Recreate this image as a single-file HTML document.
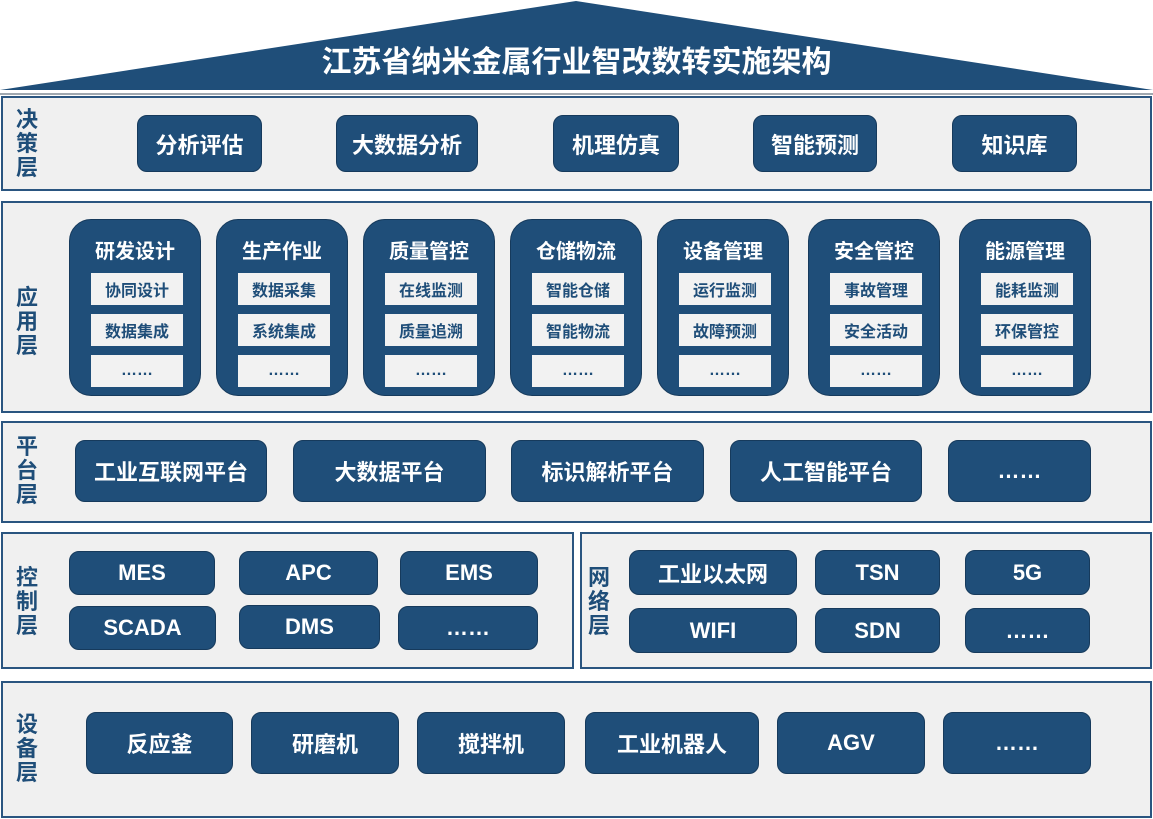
<!DOCTYPE html><html><head><meta charset="utf-8"><style>
body{margin:0;width:1153px;height:819px;background:#fff;position:relative;overflow:hidden;font-family:"Liberation Sans","Noto Sans CJK SC",sans-serif;font-weight:bold}
.p{position:absolute;background:#f0f0f0;border:2px solid #2a5580;box-sizing:border-box}
.l{position:absolute;color:#1f4e79;font-size:22px;line-height:24px;width:26px;text-align:center}
.b{position:absolute;background:#1f4e79;color:#fff;border-radius:10px;display:flex;align-items:center;justify-content:center;font-size:22px;box-sizing:border-box;border:1px solid #163a5c}
.c{position:absolute;background:#1f4e79;border-radius:22px;top:219px;height:177px;width:132px;box-sizing:border-box;border:1px solid #163a5c}
.c .t{position:absolute;top:15px;width:100%;text-align:center;color:#fff;font-size:20px}
.c .s{position:absolute;left:21px;width:92px;height:32px;background:#f2f2f2;color:#1f4e79;font-size:16px;display:flex;align-items:center;justify-content:center}
</style></head><body>
<svg style="position:absolute;left:0;top:0" width="1153" height="100"><polygon points="0,90 576,1 1153,90" fill="#1f4e79"/><line x1="0" y1="94" x2="1153" y2="94" stroke="#a0a8b0" stroke-width="2"/></svg>
<div style="position:absolute;left:0;width:1153px;top:43px;text-align:center;color:#fff;font-size:30px;line-height:40px">江苏省纳米金属行业智改数转实施架构</div>

<div class="p" style="left:1px;top:96px;width:1151px;height:95px"></div>
<div class="l" style="left:14px;top:108px">决<br>策<br>层</div>
<div class="b" style="left:137px;top:115px;width:125px;height:57px">分析评估</div>
<div class="b" style="left:336px;top:115px;width:142px;height:57px">大数据分析</div>
<div class="b" style="left:553px;top:115px;width:126px;height:57px">机理仿真</div>
<div class="b" style="left:753px;top:115px;width:124px;height:57px">智能预测</div>
<div class="b" style="left:952px;top:115px;width:125px;height:57px">知识库</div>

<div class="p" style="left:1px;top:201px;width:1151px;height:212px"></div>
<div class="l" style="left:14px;top:286px">应<br>用<br>层</div>
<div class="c" style="left:69px"><div class="t">研发设计</div><div class="s" style="top:53px">协同设计</div><div class="s" style="top:94px">数据集成</div><div class="s" style="top:135px">……</div></div>
<div class="c" style="left:216px"><div class="t">生产作业</div><div class="s" style="top:53px">数据采集</div><div class="s" style="top:94px">系统集成</div><div class="s" style="top:135px">……</div></div>
<div class="c" style="left:363px"><div class="t">质量管控</div><div class="s" style="top:53px">在线监测</div><div class="s" style="top:94px">质量追溯</div><div class="s" style="top:135px">……</div></div>
<div class="c" style="left:510px"><div class="t">仓储物流</div><div class="s" style="top:53px">智能仓储</div><div class="s" style="top:94px">智能物流</div><div class="s" style="top:135px">……</div></div>
<div class="c" style="left:657px"><div class="t">设备管理</div><div class="s" style="top:53px">运行监测</div><div class="s" style="top:94px">故障预测</div><div class="s" style="top:135px">……</div></div>
<div class="c" style="left:808px"><div class="t">安全管控</div><div class="s" style="top:53px">事故管理</div><div class="s" style="top:94px">安全活动</div><div class="s" style="top:135px">……</div></div>
<div class="c" style="left:959px"><div class="t">能源管理</div><div class="s" style="top:53px">能耗监测</div><div class="s" style="top:94px">环保管控</div><div class="s" style="top:135px">……</div></div>

<div class="p" style="left:1px;top:421px;width:1151px;height:102px"></div>
<div class="l" style="left:14px;top:435px">平<br>台<br>层</div>
<div class="b" style="left:75px;top:440px;width:192px;height:62px">工业互联网平台</div>
<div class="b" style="left:293px;top:440px;width:193px;height:62px">大数据平台</div>
<div class="b" style="left:511px;top:440px;width:193px;height:62px">标识解析平台</div>
<div class="b" style="left:730px;top:440px;width:192px;height:62px">人工智能平台</div>
<div class="b" style="left:948px;top:440px;width:143px;height:62px">……</div>

<div class="p" style="left:1px;top:532px;width:573px;height:137px"></div>
<div class="l" style="left:14px;top:566px">控<br>制<br>层</div>
<div class="b" style="left:69px;top:551px;width:146px;height:44px">MES</div>
<div class="b" style="left:239px;top:551px;width:139px;height:44px">APC</div>
<div class="b" style="left:400px;top:551px;width:138px;height:44px">EMS</div>
<div class="b" style="left:69px;top:606px;width:147px;height:44px">SCADA</div>
<div class="b" style="left:239px;top:605px;width:141px;height:44px">DMS</div>
<div class="b" style="left:398px;top:606px;width:140px;height:44px">……</div>

<div class="p" style="left:580px;top:532px;width:572px;height:137px"></div>
<div class="l" style="left:586px;top:566px">网<br>络<br>层</div>
<div class="b" style="left:629px;top:550px;width:168px;height:45px">工业以太网</div>
<div class="b" style="left:815px;top:550px;width:125px;height:45px">TSN</div>
<div class="b" style="left:965px;top:550px;width:125px;height:45px">5G</div>
<div class="b" style="left:629px;top:608px;width:168px;height:45px">WIFI</div>
<div class="b" style="left:815px;top:608px;width:125px;height:45px">SDN</div>
<div class="b" style="left:965px;top:608px;width:125px;height:45px">……</div>

<div class="p" style="left:1px;top:681px;width:1151px;height:137px"></div>
<div class="l" style="left:14px;top:713px">设<br>备<br>层</div>
<div class="b" style="left:86px;top:712px;width:147px;height:62px">反应釜</div>
<div class="b" style="left:251px;top:712px;width:148px;height:62px">研磨机</div>
<div class="b" style="left:417px;top:712px;width:148px;height:62px">搅拌机</div>
<div class="b" style="left:585px;top:712px;width:174px;height:62px">工业机器人</div>
<div class="b" style="left:777px;top:712px;width:148px;height:62px">AGV</div>
<div class="b" style="left:943px;top:712px;width:148px;height:62px">……</div>
</body></html>
